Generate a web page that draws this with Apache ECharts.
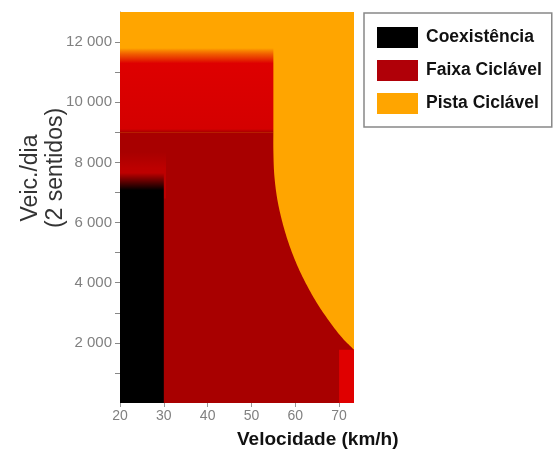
<!DOCTYPE html>
<html>
<head>
<meta charset="utf-8">
<script src="https://cdn.jsdelivr.net/npm/echarts@6/dist/echarts.min.js"></script>
<style>html,body{margin:0;padding:0;background:#fff;}#chart{width:560px;height:450px;}</style>
</head>
<body>
<div id="chart"></div>
<script>
// ---- data ----
const categories = ['Coexistência', 'Faixa Ciclável', 'Pista Ciclável'];
const speedExtent = [20, 73.4];
const volumeExtent = [0, 13000];
const xTickValues = [20, 30, 40, 50, 60, 70];
const yTickValues = [1000, 2000, 3000, 4000, 5000, 6000, 7000, 8000, 9000, 10000, 11000, 12000];
const yLabelValues = [2000, 4000, 6000, 8000, 10000, 12000];
// boundary of "Pista Ciclável" zone (speed km/h, veh/day)
const pistaBoundarySpeed = [55, 55, 55.2, 55.9, 57.2, 59.0, 61.4, 64.5, 67.5, 70.5, 73.4];
const pistaBoundaryVolume = [9000, 8400, 7600, 6770, 5930, 5100, 4270, 3430, 2770, 2200, 1770];
// faixa ciclável lower block
const faixaBlockSpeed = [20, 55];
const faixaBlockVolume = [0, 9000];
// upper faixa band (brighter)
const faixaBandSpeed = [20, 55];
const faixaBandVolume = [9000, 11800];
// glow above coexistência zone
const glowSpeed = [20, 30.5];
const glowVolume = [6800, 8350];
// high-speed low-volume corner
const cornerSpeed = [70, 73.4];
const cornerVolume = [0, 1770];
// coexistência
const coexSpeed = [20, 30];
const coexVolume = [0, 7650];

// ---- styles ----
const C_BLACK = '#000000', C_DARK = '#a80000', C_ORANGE = '#ffa500';
const G = echarts.graphic;
const regionKeys = ['pista', 'band', 'glow', 'corner', 'coex'];
const regionStyles = {
  pista: { fill: C_ORANGE },
  band: { fill: new G.LinearGradient(0, 0, 0, 1, [
      { offset: 0, color: 'rgba(222,0,0,0)' },
      { offset: 0.08, color: 'rgba(226,20,0,0.55)' },
      { offset: 0.18, color: 'rgba(222,0,0,1)' },
      { offset: 0.96, color: '#d40000' },
      { offset: 1, color: '#a60000' }]) },
  glow: { fill: new G.LinearGradient(0, 0, 0, 1, [
      { offset: 0, color: 'rgba(195,0,0,0)' },
      { offset: 0.35, color: 'rgba(198,0,0,0.7)' },
      { offset: 1, color: 'rgba(198,0,0,0.7)' }]) },
  corner: { fill: '#e00000' },
  coex: { fill: new G.LinearGradient(0, 0, 0, 1, [
      { offset: 0, color: 'rgba(0,0,0,0)' },
      { offset: 0.075, color: 'rgba(0,0,0,1)' },
      { offset: 1, color: 'rgba(0,0,0,1)' }]) }
};

function rectRender(params, api) {
  const a = api.coord([api.value(0), api.value(3)]);
  const b = api.coord([api.value(1), api.value(2)]);
  return {
    type: 'rect',
    shape: { x: a[0], y: a[1], width: b[0] - a[0], height: b[1] - a[1] },
    style: regionStyles[regionKeys[api.value(4)]],
    silent: true
  };
}
function rectData(sp, vol, k) { return [[sp[0], sp[1], vol[0], vol[1], regionKeys.indexOf(k)]]; }

const boundaryData = pistaBoundarySpeed.map((s, i) => [s, pistaBoundaryVolume[i]]);

// smooth (Catmull-Rom) rendering of the boundary in pixel space
function smoothPixels(px) {
  const out = [px[0]];
  for (let i = 0; i < px.length - 1; i++) {
    const p0 = px[Math.max(0, i - 1)], p1 = px[i], p2 = px[i + 1], p3 = px[Math.min(px.length - 1, i + 2)];
    for (let s = 1; s <= 12; s++) {
      const t = s / 12, t2 = t * t, t3 = t2 * t;
      out.push([0, 1].map(k => 0.5 * ((2 * p1[k]) + (-p0[k] + p2[k]) * t +
        (2 * p0[k] - 5 * p1[k] + 4 * p2[k] - p3[k]) * t2 + (-p0[k] + 3 * p1[k] - 3 * p2[k] + p3[k]) * t3)));
    }
  }
  return out;
}

function faixaPolygon(params, api) {
  if (params.dataIndex !== 0) return null;
  const pts = [];
  pts.push(api.coord([faixaBlockSpeed[0], faixaBlockVolume[0]]));
  pts.push(api.coord([faixaBlockSpeed[0], faixaBlockVolume[1]]));
  const curve = smoothPixels(boundaryData.map(d => api.coord(d)));
  curve.forEach(p => pts.push(p));
  const last = boundaryData[boundaryData.length - 1];
  pts.push(api.coord([last[0], volumeExtent[0]]));
  return { type: 'polygon', shape: { points: pts }, style: { fill: C_DARK }, silent: true };
}

const fmt = v => String(v).replace(/\B(?=(\d{3})+(?!\d))/g, ' ');

const chart = echarts.init(document.getElementById('chart'), null, { renderer: 'canvas' });
chart.setOption({
  animation: false,
  backgroundColor: '#fff',
  grid: { left: 120, right: 206, top: 12, bottom: 47 },
  xAxis: {
    type: 'value', min: speedExtent[0], max: speedExtent[1],
    splitLine: { show: false },
    axisLine: { show: false },
    axisTick: { show: true, length: 4, lineStyle: { color: '#999' }, customValues: xTickValues },
    axisLabel: { color: '#808080', fontSize: 14, fontFamily: 'Liberation Sans', margin: 6, customValues: xTickValues }
  },
  yAxis: {
    type: 'value', min: volumeExtent[0], max: volumeExtent[1],
    splitLine: { show: false },
    axisLine: { show: true, lineStyle: { color: '#888', width: 1 } },
    axisTick: { show: true, length: 5, lineStyle: { color: '#888' }, customValues: yTickValues },
    axisLabel: { color: '#808080', fontSize: 15, fontFamily: 'Liberation Sans', margin: 8, customValues: yLabelValues, formatter: fmt }
  },
  legend: {
    orient: 'vertical', left: 364, top: 13,
    data: categories,
    icon: 'rect', itemWidth: 41, itemHeight: 21, itemGap: 12,
    padding: [14, 10, 13, 13],
    borderColor: '#888', borderWidth: 1.5, backgroundColor: '#fff',
    selectedMode: false,
    textStyle: { fontFamily: 'Liberation Sans', fontWeight: 'bold', fontSize: 17.5, color: '#111', padding: [0, 0, 0, 3] }
  },
  graphic: [
    { type: 'text', x: 31, y: 178, rotation: Math.PI / 2, style: { text: 'Veic./dia', font: '23px "Liberation Sans"', fill: '#333', align: 'center', verticalAlign: 'middle' } },
    { type: 'text', x: 56, y: 168, rotation: Math.PI / 2, style: { text: '(2 sentidos)', font: '23px "Liberation Sans"', fill: '#333', align: 'center', verticalAlign: 'middle' } },
    { type: 'text', x: 237, y: 440, style: { text: 'Velocidade (km/h)', font: 'bold 19px "Liberation Sans"', fill: '#111', align: 'left', verticalAlign: 'middle' } }
  ],
  series: [
    { type: 'custom', name: 'Pista Ciclável', z: 1, itemStyle: { color: C_ORANGE }, renderItem: rectRender,
      data: rectData(speedExtent, volumeExtent, 'pista') },
    { type: 'custom', name: 'Faixa Ciclável', z: 2, itemStyle: { color: '#b00008' }, renderItem: faixaPolygon,
      data: boundaryData },
    { type: 'custom', name: 'Faixa Ciclável', z: 3, itemStyle: { color: '#b00008' }, renderItem: rectRender,
      data: [].concat(rectData(faixaBandSpeed, faixaBandVolume, 'band'), rectData(glowSpeed, glowVolume, 'glow'), rectData(cornerSpeed, cornerVolume, 'corner')) },
    { type: 'custom', name: 'Coexistência', z: 4, itemStyle: { color: C_BLACK }, renderItem: rectRender,
      data: rectData(coexSpeed, coexVolume, 'coex') }
  ]
});
</script>
</body>
</html>
